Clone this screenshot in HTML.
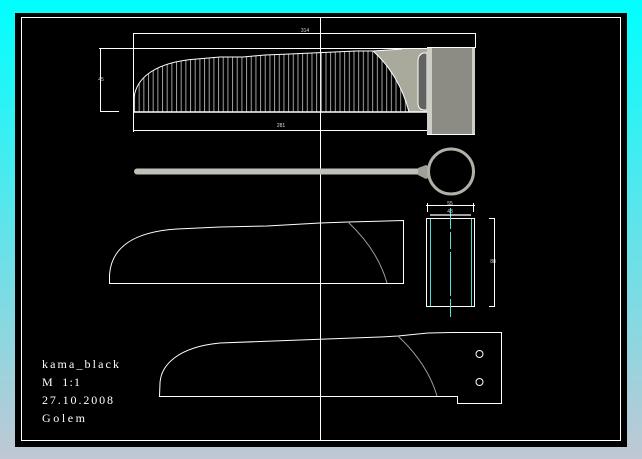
<!DOCTYPE html>
<html>
<head>
<meta charset="utf-8">
<style>
html,body{margin:0;padding:0;width:642px;height:459px;overflow:hidden;background:linear-gradient(180deg,#00ffff 0%,#c0c8d4 100%);}
svg{position:absolute;left:0;top:0;display:block;}
</style>
</head>
<body>
<svg width="642" height="459" viewBox="0 0 642 459" xmlns="http://www.w3.org/2000/svg">
<defs>
<pattern id="h" x="134" y="0" width="4.67" height="459" patternUnits="userSpaceOnUse">
<rect x="0" y="0" width="1" height="459" fill="#a0a0a0"/>
</pattern>
</defs>
<rect x="15" y="13" width="612" height="434" fill="#000"/>
<rect x="21.5" y="17.5" width="599" height="423" fill="none" stroke="#fff" stroke-width="1"/>
<line x1="320.5" y1="18" x2="320.5" y2="441" stroke="#fff"/>

<!-- top view: hatch -->
<path d="M134 112L134 98C136 78 155 62 197 59L220 57L243 57L265 55L290 54L312 53L334 52L356 51L373 51C390 66 403 88 409 112Z" fill="url(#h)"/>
<!-- guard -->
<path d="M373 51L402 49L427 48L427 112L409 112C403 88 390 66 373 51Z" fill="#a9a99c"/>
<path d="M427 53L423 53Q418 55 418 61L418 103Q418 110 425 110L427 110Z" fill="#62625e" stroke="#fff" stroke-width="1"/>
<path d="M373 51C390 66 403 88 409 112" fill="none" stroke="#fff"/>
<!-- handle -->
<rect x="427" y="47" width="48" height="88" fill="#8c8c84"/>
<rect x="427" y="47" width="5" height="88" fill="#cfcfc8"/>
<rect x="472" y="47" width="3" height="88" fill="#cfcfc8"/>
<line x1="427" y1="47.5" x2="475" y2="47.5" stroke="#fff"/>
<line x1="427" y1="134.5" x2="475" y2="134.5" stroke="#fff"/>
<!-- blade outline + dims -->
<path d="M134 112L134 98C136 78 155 62 197 59L220 57L243 57L265 55L290 54L312 53L334 52L356 51L373 51L402 49" fill="none" stroke="#fff"/>
<g stroke="#fff" stroke-width="1" fill="none">
<line x1="133" y1="33.5" x2="475" y2="33.5"/>
<line x1="99" y1="48.5" x2="427" y2="48.5"/>
<line x1="133" y1="112" x2="427" y2="112" stroke-width="1.5"/>
<line x1="133" y1="130.5" x2="427" y2="130.5"/>
<line x1="133.5" y1="33" x2="133.5" y2="132"/>
<line x1="475.5" y1="33" x2="475.5" y2="48"/>
<line x1="100.5" y1="48" x2="100.5" y2="111"/>
<line x1="100" y1="111.5" x2="119" y2="111.5"/>
</g>
<g fill="#ddd" font-family="'Liberation Sans',sans-serif" font-size="5" text-anchor="middle">
<text x="305" y="32">314</text>
<text x="101" y="81">45</text>
<text x="281" y="127">281</text>
<text x="450" y="205">55</text>
<text x="450" y="213">48</text>
<text x="493" y="263">88</text>
</g>

<!-- side rod + ring -->
<line x1="137" y1="171.5" x2="420" y2="171.5" stroke="#c0c0b8" stroke-width="6" stroke-linecap="round"/>
<path d="M418 168L426 165L430 167L430 177L426 179L418 175Z" fill="#a0a098"/>
<circle cx="451" cy="171.5" r="22.5" fill="#000" stroke="#b0b0a8" stroke-width="3"/>

<!-- section view -->
<rect x="426.5" y="218.5" width="48" height="88" fill="none" stroke="#fff"/>
<line x1="430.5" y1="219" x2="430.5" y2="306" stroke="#4fd8d8"/>
<line x1="471.5" y1="219" x2="471.5" y2="306" stroke="#4fd8d8"/>
<g stroke="#4fe0e0">
<line x1="450.5" y1="208" x2="450.5" y2="229"/>
<line x1="450.5" y1="232" x2="450.5" y2="249"/>
<line x1="450.5" y1="252" x2="450.5" y2="296"/>
<line x1="450.5" y1="299" x2="450.5" y2="317"/>
</g>
<g stroke="#fff" fill="none">
<line x1="426" y1="205.5" x2="475" y2="205.5"/>
<line x1="427.5" y1="203" x2="427.5" y2="212"/>
<line x1="473.5" y1="203" x2="473.5" y2="212"/>
<line x1="430" y1="215" x2="471" y2="215" stroke-width="1.3"/>
<line x1="494.5" y1="218" x2="494.5" y2="307"/>
<line x1="489" y1="218.5" x2="495" y2="218.5"/>
<line x1="489" y1="306.5" x2="495" y2="306.5"/>
</g>

<!-- blade 2 -->
<path d="M109.5 283.5L109.5 275C111 250 130 232 177 229L220 227L267 226L320 223L348 222L403.5 220.5L403.5 283.5Z" fill="none" stroke="#fff"/>
<path d="M348 222C365 238 380 258 387 283" fill="none" stroke="#9a9a9a"/>

<!-- blade 3 -->
<path d="M159.5 396.5L160 383C161 365 178 347 220 343L300 340L380 337L398 336L428 333L452 332.5L501.5 332.5L501.5 403.5L457.5 403.5L457.5 396.5Z" fill="none" stroke="#fff"/>
<path d="M398 336C415 352 430 372 437 396" fill="none" stroke="#9a9a9a"/>
<circle cx="479.5" cy="354" r="3.5" fill="none" stroke="#fff"/>
<circle cx="479.5" cy="382" r="3.5" fill="none" stroke="#fff"/>

<!-- title -->
<g fill="#fff" font-family="'Liberation Serif',serif" font-size="12">
<text x="42" y="368" textLength="77">kama_black</text>
<text x="42" y="386" textLength="38" xml:space="preserve">M  1:1</text>
<text x="42" y="404" textLength="71">27.10.2008</text>
<text x="42" y="422" textLength="43">Golem</text>
</g>
</svg>
</body>
</html>
